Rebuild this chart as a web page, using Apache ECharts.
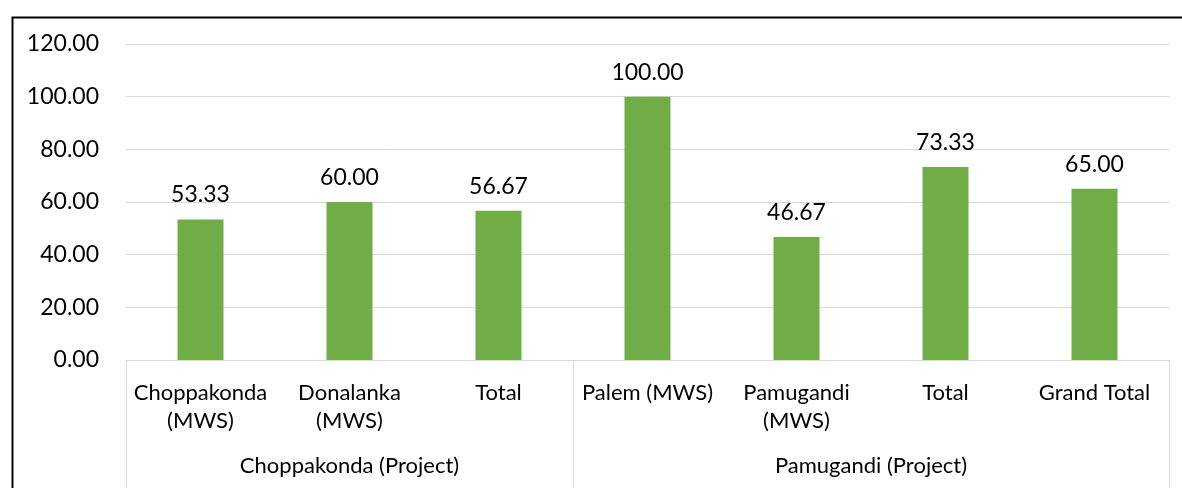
<!DOCTYPE html>
<html>
<head>
<meta charset="utf-8">
<script src="https://cdn.jsdelivr.net/npm/echarts@6/dist/echarts.min.js"></script>
<style>
    html, body { margin: 0; padding: 0; background: #fff; }
    #chart { width: 1182px; height: 488px; }
</style>
</head>
<body>
<div id="chart"></div>
<script>
    // categories (level 1) and their project groups (level 2)
    var categories = ['Choppakonda\n(MWS)', 'Donalanka\n(MWS)', 'Total', 'Palem (MWS)', 'Pamugandi\n(MWS)', 'Total', 'Grand Total'];
    var groups = ['Choppakonda (Project)', 'Pamugandi (Project)'];
    var groupSizes = [3, 4];
    var values = [53.33, 60.00, 56.67, 100.00, 46.67, 73.33, 65.00];
    var yTicks = [0, 20, 40, 60, 80, 100, 120];

    // group boundaries and centres, in category units
    var bounds = [0], centres = [];
    groupSizes.forEach(function (n, i) {
        centres.push(bounds[i] + n / 2);
        bounds.push(bounds[i] + n);
    });

    var font = 'Lato';
    var myChart = echarts.init(document.getElementById('chart'));
    var option = {
        animation: false,
        textStyle: { fontFamily: font },
        graphic: [{//外框
            type: 'rect',
            left: 10, top: 15,
            shape: { width: 1300, height: 600 },
            style: { fill: 'none', stroke: '#000', lineWidth: 2 },
            silent: true
        }],
        grid: { left: 126, right: 13, top: 44, bottom: 128 },
        xAxis: [{
            type: 'category',
            data: categories,
            axisLine: { lineStyle: { color: '#d9d9d9', width: 1 } },
            axisTick: { show: false },
            axisLabel: { color: '#000', fontSize: 22, fontFamily: font, lineHeight: 28, margin: 19, interval: 0 }
        }, {
            type: 'value',
            position: 'bottom',
            min: 0,
            max: categories.length,
            splitLine: { show: false },
            axisLine: { show: false },
            axisTick: { show: true, customValues: bounds, length: 128, lineStyle: { color: '#d9d9d9', width: 1 } },
            axisLabel: {
                customValues: centres,
                color: '#000', fontSize: 22, fontFamily: font, margin: 95,
                formatter: function (v) {
                    var i = centres.indexOf(v);
                    return i >= 0 ? groups[i] : '';
                }
            }
        }],
        yAxis: {
            type: 'value',
            min: yTicks[0],
            max: yTicks[yTicks.length - 1],
            interval: yTicks[1] - yTicks[0],
            axisLine: { show: false },
            axisTick: { show: false },
            splitLine: { lineStyle: { color: '#d9d9d9', width: 1 } },
            axisLabel: {
                color: '#000', fontSize: 23, fontFamily: font, margin: 27,
                formatter: function (v) { return v.toFixed(2); }
            }
        },
        series: [{
            type: 'bar',
            xAxisIndex: 0,
            data: values,
            barWidth: 46,
            itemStyle: { color: '#70ad47' },
            label: {
                show: true,
                position: 'top',
                distance: 13,
                color: '#000',
                fontSize: 23,
                fontFamily: font,
                formatter: function (p) { return p.value.toFixed(2); }
            }
        }]
    };
    myChart.setOption(option);
</script>
</body>
</html>
